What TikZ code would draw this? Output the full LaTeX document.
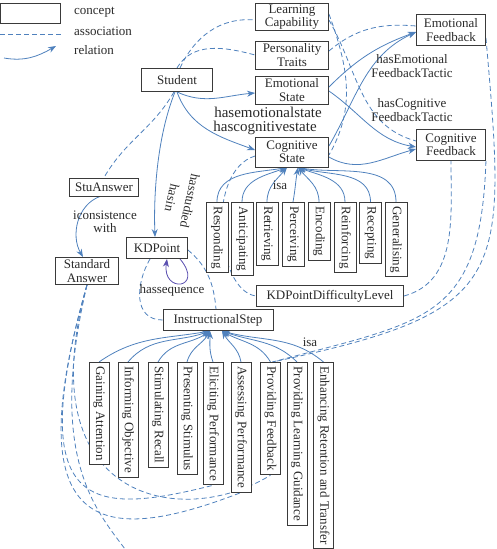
\documentclass[tikz,border=0pt]{standalone}
\usepackage{fontspec}
\setmainfont{Liberation Serif}
\usetikzlibrary{arrows.meta}
\pgfdeclarelayer{bg}
\pgfsetlayers{bg,main}
\definecolor{lb}{HTML}{4F81BD}
\definecolor{bd}{HTML}{3A3A3A}
\definecolor{tx}{HTML}{2A2A2A}
\definecolor{lp}{HTML}{5A4FB0}
\newcommand\myfs{\fontsize{13}{13.5}\selectfont}
\newcommand\mybig{\fontsize{15}{16}\selectfont}
\begin{document}
\begin{tikzpicture}[x=1pt,y=-1pt,
 concept/.style={draw=bd, line width=0.9pt, fill=white, text=tx, inner sep=1pt, align=center, font=\myfs},
 sub/.style={concept, rotate=-90, anchor=west, inner xsep=4pt, inner ysep=0pt},
 rel/.style={draw=lb, line width=0.8pt, -{Stealth[length=8pt,width=6pt]}},
 assoc/.style={draw=lb, line width=0.8pt, dash pattern=on 5pt off 3pt},
 lbl/.style={text=tx, font=\myfs, align=center, inner sep=0pt}]
\useasboundingbox (0,0) rectangle (497,549);

% legend
\node[concept, minimum width=60, minimum height=20] (lg1) at (30.5,13) {};
\node[lbl, anchor=west] (lt1) at (74,12) {concept};
\coordinate (la1) at (0,34); \coordinate (la2) at (61,34);
\node[lbl, anchor=west] (lt2) at (74,31) {association};
\coordinate (lr1) at (4,58); \coordinate (lr2) at (56,46);
\node[lbl, anchor=west] (lt3) at (74,50) {relation};

% main concepts
\node[concept, minimum width=71, minimum height=23] (student) at (177,80) {Student};
\node[concept, minimum width=73, minimum height=27] (lcap) at (292,17) {Learning\\Capability};
\node[concept, minimum width=73, minimum height=28] (ptraits) at (292,55) {Personality\\Traits};
\node[concept, minimum width=73, minimum height=28] (estate) at (292,90) {Emotional\\State};
\node[concept, minimum width=73, minimum height=30] (cstate) at (292,152) {Cognitive\\State};
\node[concept, minimum width=69, minimum height=31] (efb) at (451,30) {Emotional\\Feedback};
\node[concept, minimum width=69, minimum height=31] (cfb) at (451,145) {Cognitive\\Feedback};
\node[concept, minimum width=69, minimum height=18] (stuans) at (104,187) {StuAnswer};
\node[concept, minimum width=63, minimum height=27] (stdans) at (87,271) {Standard\\Answer};
\node[concept, minimum width=61, minimum height=21] (kdp) at (157,248) {KDPoint};
\node[concept, minimum width=147, minimum height=21] (kdpdl) at (330,296) {KDPointDifficultyLevel};
\node[concept, minimum width=110, minimum height=21] (istep) at (218,320) {InstructionalStep};

% cognitive sub concepts
\node[sub, minimum height=22] (c1) at (217,202) {Responding};
\node[sub, minimum height=22] (c2) at (242,202) {Anticipating};
\node[sub, minimum height=22] (c3) at (267,202) {Retrieving};
\node[sub, minimum height=22] (c4) at (293,202) {Perceiving};
\node[sub, minimum height=22] (c5) at (319,202) {Encoding};
\node[sub, minimum height=22] (c6) at (345,202) {Reinforcing};
\node[sub, minimum height=22] (c7) at (370.5,202) {Recepting};
\node[sub, minimum height=22] (c8) at (396,202) {Generalising};

% instructional steps
\node[sub, minimum height=20] (i1) at (99,362) {Gaining Attention};
\node[sub, minimum height=20] (i2) at (128,362) {Informing Objective};
\node[sub, minimum height=20] (i3) at (158,362) {Stimulating Recall};
\node[sub, minimum height=20] (i4) at (187,362) {Presenting Stimulus};
\node[sub, minimum height=20] (i5) at (213,362) {Eliciting Performance};
\node[sub, minimum height=20] (i6) at (241,362) {Assessing Performance};
\node[sub, minimum height=20] (i7) at (270.5,362) {Providing Feedback};
\node[sub, minimum height=20] (i8) at (297,362) {Providing Learning Guidance};
\node[sub, minimum height=20] (i9) at (323.5,362) {Enhancing Retention and Transfer};

% labels
\node[lbl] (isa1) at (280,185) {isa};
\node[lbl] (isa2) at (310,342) {isa};
\node[lbl, font=\mybig] (hes) at (268,112) {hasemotionalstate};
\node[lbl, font=\mybig] (hcs) at (265,128) {hascognitivestate};
\node[lbl, rotate=-103] (hasin) at (172,198) {hasin};
\node[lbl, rotate=-102] (hst) at (190,201) {hasstudied};
\node[lbl] (icw) at (105,222) {iconsistence\\with};
\node[lbl] (hseq) at (172,290) {hassequence};
\node[lbl] (hef) at (412,66) {hasEmotional\\FeedbackTactic};
\node[lbl] (hcf) at (412,110) {hasCognitive\\FeedbackTactic};

\coordinate (ct1) at ([xshift=-5pt]cstate.south);
\coordinate (ct2) at ([xshift=6pt]cstate.south);
\coordinate (it1) at ([xshift=-8pt]istep.south);
\coordinate (it2) at ([xshift=4pt]istep.south);
\coordinate (offb) at (125,549);

\begin{pgfonlayer}{bg}
% legend lines
\draw[assoc] (la1) -- (la2);
\draw[rel] (lr1) to[out=-10, in=210] (lr2);

% isa arrows to Cognitive State
\draw[rel] (c1.west) to[out=90,in=190] (ct1);
\draw[rel] (c2.west) to[out=90,in=200] (ct1);
\draw[rel] (c3.west) to[out=90,in=230] (ct1);
\draw[rel] (c4.west) to[out=80,in=-100] (ct2);
\draw[rel] (c5.west) to[out=90,in=-50] (ct2);
\draw[rel] (c6.west) to[out=90,in=-20] (ct2);
\draw[rel] (c7.west) to[out=90,in=-15] (ct2);
\draw[rel] (c8.west) to[out=90,in=-10] (ct2);

% isa arrows to InstructionalStep
\draw[rel] (i1.west) to[out=35,in=190] (it1);
\draw[rel] (i2.west) to[out=50,in=200] (it1);
\draw[rel] (i3.west) to[out=60,in=215] (it1);
\draw[rel] (i4.west) to[out=75,in=240] (it1);
\draw[rel] (i5.west) to[out=110,in=-90] (it1);
\draw[rel] (i6.west) to[out=100,in=-60] (it2);
\draw[rel] (i7.west) to[out=120,in=-30] (it2);
\draw[rel] (i8.west) to[out=135,in=-20] (it2);
\draw[rel] (i9.west) to[out=140,in=-15] (it2);

% relations
\draw[rel] (student.south) to[out=-25,in=185] ([yshift=-3pt]estate.west);
\draw[rel] (student.south) to[out=-70,in=160] ([yshift=2pt]cstate.west);
\draw[rel] ([xshift=-2pt]student.south) to[out=-112,in=92,looseness=0.8] ([xshift=-2pt]kdp.north);
\draw[rel] ([xshift=-4pt]stuans.south) to[out=200,in=120] ([xshift=-4pt]stdans.north);
\draw[draw=lp, line width=0.8pt, -{Stealth[length=8pt,width=6pt]}] ([xshift=23pt]kdp.south) .. controls +(25,30) and +(-5,35) .. ([xshift=10pt]kdp.south);
\draw[rel] ([yshift=3pt]estate.east) to[out=45,in=200] ([yshift=-2pt]efb.west);
\draw[rel] ([yshift=-1pt]estate.east) to[out=-35,in=170] ([yshift=-2pt]cfb.west);
\draw[rel] ([yshift=6pt]cstate.east) to[out=60,in=205] ([yshift=-2pt]efb.west);
\draw[rel] ([yshift=-5pt]cstate.east) to[out=-30,in=195] ([yshift=-4pt]cfb.west);

% associations
\draw[assoc] ([xshift=3pt]student.north) to[out=65,in=175] ([yshift=-3pt]lcap.west);
\draw[assoc] (student.north) to[out=60,in=165] (ptraits.west);
\draw[assoc] ([xshift=-3pt]student.south) to[out=-120,in=60] (stuans.north);
\draw[assoc] ([yshift=-4pt]cstate.west) .. controls +(-50,15) and +(-40,-5) .. (kdpdl.west);
\draw[assoc] ([yshift=-2pt]kdp.east) to[out=-40,in=95] ([xshift=-2pt]istep.north);
\draw[assoc] ([xshift=-7pt]kdp.south) to[out=-120,in=180,looseness=1.2] (istep.west);
\draw[assoc] (kdpdl.east) to[out=15,in=-90] (cfb.south);
\draw[assoc] ([yshift=3pt]lcap.east) to[out=-70,in=60] ([yshift=-3pt]cstate.east);
\draw[assoc] ([yshift=-3pt]lcap.east) to[out=-60,in=165] ([yshift=4pt]cfb.west);
\draw[assoc] ([yshift=4pt]ptraits.east) to[out=40,in=175] ([yshift=4pt]efb.west);
\draw[assoc] ([yshift=-8pt]efb.east) to[out=-85,in=12,looseness=1.6] ([xshift=2pt]i7.west);
\draw[assoc] (cfb.south east) to[out=-92,in=15,looseness=1.4] ([xshift=2pt]i7.west);

\draw[assoc] (stdans.south) .. controls +(-65,230) and +(-120,30) .. (i5.east);
\draw[assoc] (stdans.south) .. controls +(-75,260) and +(-130,50) .. (i6.east);
\draw[assoc] (stdans.south) .. controls +(-60,215) and +(-90,55) .. (i7.east);
\draw[assoc] (stdans.south) .. controls +(-40,170) and +(-30,-40) .. (offb);
\end{pgfonlayer}
\end{tikzpicture}
\end{document}
